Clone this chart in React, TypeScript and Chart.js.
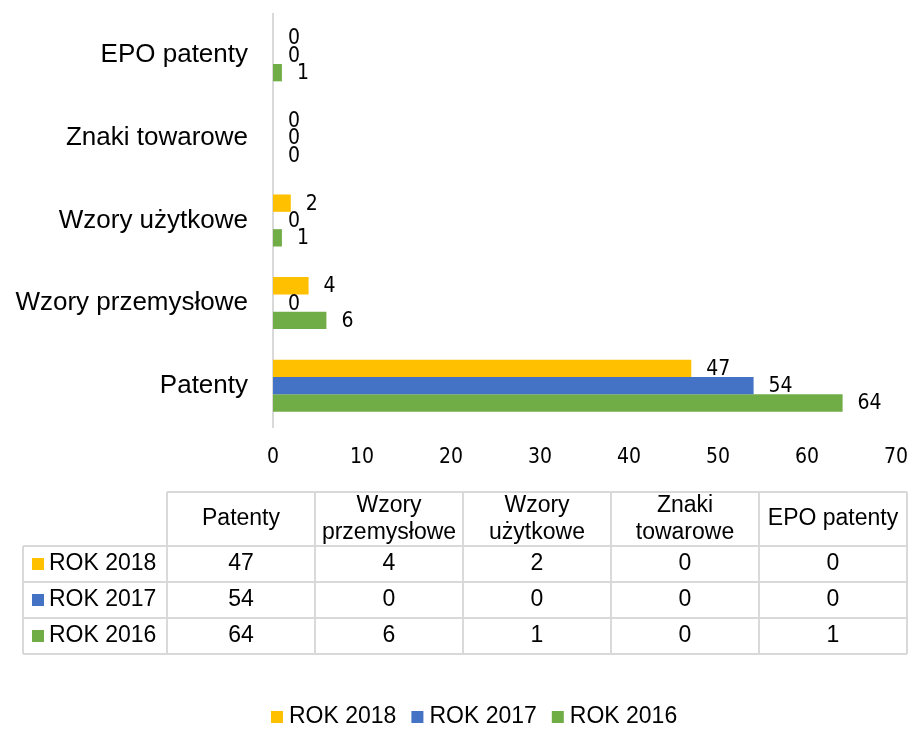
import React, { useEffect, useRef } from "react";
import { Chart, registerables } from "chart.js";

Chart.register(...registerables);

// ---- data ----
const categories = ["Patenty", "Wzory przemysłowe", "Wzory użytkowe", "Znaki towarowe", "EPO patenty"];
const tableHeaderLines = [["Patenty"], ["Wzory", "przemysłowe"], ["Wzory", "użytkowe"], ["Znaki", "towarowe"], ["EPO patenty"]];
const seriesNames = ["ROK 2018", "ROK 2017", "ROK 2016"];
const rok2018 = [47, 4, 2, 0, 0];
const rok2017 = [54, 0, 0, 0, 0];
const rok2016 = [64, 6, 1, 0, 1];
const seriesColors = ["#FFC000", "#4472C4", "#70AD47"];
const xMin = 0;
const xMax = 70;
const xStep = 10;

const W = 912;
const H = 729;
const NARROW = '"Liberation Sans Narrow", "Arial Narrow", "DejaVu Sans Condensed", sans-serif';
const SANS = '"Liberation Sans", Arial, sans-serif';

const dataLabelPlugin = {
  id: "dataLabels",
  afterDatasetsDraw(chart: any) {
    const ctx = chart.ctx;
    ctx.save();
    ctx.font = `21px ${NARROW}`;
    ctx.fillStyle = "#000";
    ctx.textAlign = "left";
    ctx.textBaseline = "middle";
    chart.data.datasets.forEach((ds: any, i: number) => {
      const meta = chart.getDatasetMeta(i);
      meta.data.forEach((el: any, j: number) => {
        ctx.fillText(String(ds.data[j]), el.x + 15, el.y + 1);
      });
    });
    ctx.restore();
  },
};

const tablePlugin = {
  id: "dataTable",
  afterDraw(chart: any) {
    const ctx = chart.ctx;
    const series = [rok2018, rok2017, rok2016];
    const colX = [167, 315, 463, 611, 759, 907];
    const left = 23;
    const top = 492;
    const rowY = [546, 582, 618, 654];
    ctx.save();
    ctx.strokeStyle = "#d9d9d9";
    ctx.lineWidth = 2;
    ctx.beginPath();
    ctx.moveTo(colX[0], top);
    ctx.lineTo(colX[5], top);
    rowY.forEach((y) => {
      ctx.moveTo(left, y);
      ctx.lineTo(colX[5], y);
    });
    colX.forEach((x) => {
      ctx.moveTo(x, top);
      ctx.lineTo(x, rowY[3]);
    });
    ctx.moveTo(left, rowY[0]);
    ctx.lineTo(left, rowY[3]);
    ctx.stroke();

    ctx.fillStyle = "#000";
    ctx.font = `23px ${SANS}`;
    ctx.textBaseline = "middle";
    ctx.textAlign = "center";
    const headMid = (top + rowY[0]) / 2;
    tableHeaderLines.forEach((lines, c) => {
      const cx = (colX[c] + colX[c + 1]) / 2;
      if (lines.length === 1) {
        ctx.fillText(lines[0], cx, headMid);
      } else {
        ctx.fillText(lines[0], cx, headMid - 13);
        ctx.fillText(lines[1], cx, headMid + 14);
      }
    });
    series.forEach((vals, r) => {
      const cy = (rowY[r] + rowY[r + 1]) / 2;
      ctx.textAlign = "center";
      ctx.fillStyle = "#000";
      vals.forEach((v, c) => {
        const cx = (colX[c] + colX[c + 1]) / 2;
        ctx.fillText(String(v), cx, cy);
      });
      ctx.fillStyle = seriesColors[r];
      ctx.fillRect(32, cy - 6, 12, 12);
      ctx.fillStyle = "#000";
      ctx.textAlign = "left";
      ctx.fillText(seriesNames[r], 49, cy);
    });

    // legend
    let x = 271;
    const ly = 717;
    ctx.textAlign = "left";
    seriesNames.forEach((name, i) => {
      ctx.fillStyle = seriesColors[i];
      ctx.fillRect(x, ly - 6, 12, 12);
      ctx.fillStyle = "#000";
      ctx.fillText(name, x + 18, ly);
      x += 18 + ctx.measureText(name).width + 15;
    });
    ctx.restore();
  },
};

export default function App() {
  const ref = useRef<HTMLCanvasElement>(null);
  useEffect(() => {
    document.body.style.margin = "0";
    const canvas = ref.current!;
    const chart = new Chart(canvas, {
      type: "bar",
      data: {
        labels: categories,
        datasets: [
          { label: seriesNames[0], data: rok2018, backgroundColor: seriesColors[0] },
          { label: seriesNames[1], data: rok2017, backgroundColor: seriesColors[1] },
          { label: seriesNames[2], data: rok2016, backgroundColor: seriesColors[2] },
        ],
      },
      options: {
        indexAxis: "y",
        responsive: false,
        animation: false,
        devicePixelRatio: 1,
        layout: { padding: { left: 0, right: 16, top: 14, bottom: 252 } },
        datasets: { bar: { categoryPercentage: 0.63, barPercentage: 1, borderWidth: 0 } },
        plugins: { legend: { display: false }, tooltip: { enabled: false } },
        scales: {
          x: {
            min: xMin,
            max: xMax,
            ticks: { stepSize: xStep, padding: 18, color: "#000", font: { family: NARROW, size: 21 } },
            grid: { display: false, drawTicks: false },
            border: { display: false },
            afterFit: (s: any) => {
              s.height = 50;
              s.paddingLeft = 0;
              s.paddingRight = 0;
            },
          },
          y: {
            reverse: true,
            ticks: { padding: 25, color: "#000", font: { family: SANS, size: 26 } },
            grid: { display: false, drawTicks: false },
            border: { display: true, color: "#d9d9d9", width: 2 },
            afterFit: (s: any) => {
              s.width = 273;
              s.paddingTop = 0;
              s.paddingBottom = 0;
            },
          },
        },
      } as any,
      plugins: [dataLabelPlugin, tablePlugin],
    });
    return () => chart.destroy();
  }, []);
  return (
    <div style={{ width: W, height: H, background: "#fff" }}>
      <canvas ref={ref} width={W} height={H} style={{ display: "block" }} />
    </div>
  );
}
